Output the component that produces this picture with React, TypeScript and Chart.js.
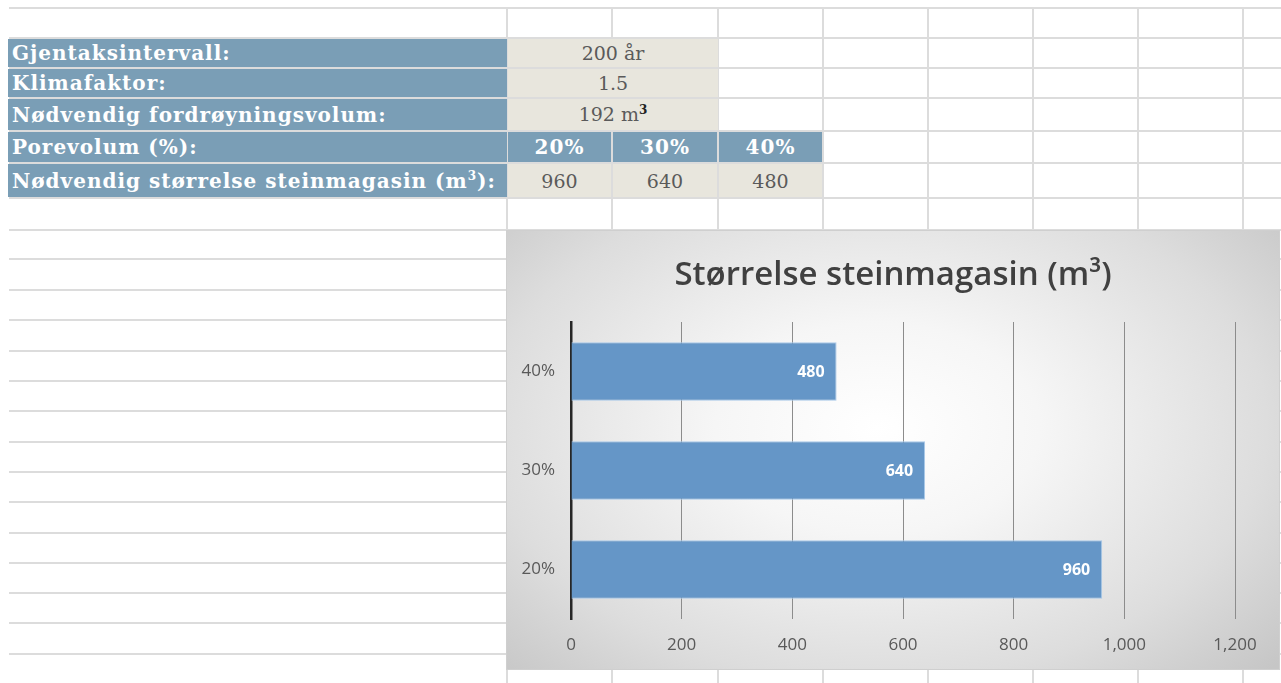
import React, { useEffect, useRef } from 'react';
import { Chart, registerables } from 'chart.js';

Chart.register(...registerables);

// ---- data ----
const porosityLabels = ['20%', '30%', '40%'];
const storageVolumes = [960, 640, 480];
const axisMin = 0;
const axisMax = 1200;
const axisStep = 200;
const chartTitle = 'Størrelse steinmagasin (m³)';

const rowLabels = [
  'Gjentaksintervall:',
  'Klimafaktor:',
  'Nødvendig fordrøyningsvolum:',
  'Porevolum (%):',
  'Nødvendig størrelse steinmagasin (m',
];
const returnPeriodText = '200 år';
const climateFactorText = '1.5';
const retentionVolume = 192;

// ---- layout (styles only) ----
const colEdges = [507, 612, 718, 823, 928, 1033, 1138, 1243];
const rowEdges = [8, 38, 68, 98, 131, 163, 198, 230, 259, 290, 320, 351, 381, 411, 442, 472, 502, 533, 563, 593, 623, 654, 684];
const tableRows = [38, 68, 98, 131, 163, 198];
const BLUE = '#7a9eb6';
const BEIGE = '#e8e6dd';
const GRID = '#dcdcdc';

const labelFont = '"DejaVu Serif", serif';
const valueFont = '"DejaVu Serif", serif';

function Cell(props: { x0: number; x1: number; r: number; bg: string; children?: React.ReactNode; align?: string; color?: string; bold?: boolean; font?: string; size?: number; spacing?: number }) {
  const top = tableRows[props.r];
  const bottom = tableRows[props.r + 1];
  return (
    <div
      style={{
        position: 'absolute',
        left: props.x0,
        top: top + 1,
        width: props.x1 - props.x0,
        height: bottom - top - 2,
        background: props.bg,
        display: 'flex',
        alignItems: 'center',
        justifyContent: props.align === 'left' ? 'flex-start' : 'center',
        paddingLeft: props.align === 'left' ? 4 : 0,
        boxSizing: 'border-box',
        color: props.color || '#fff',
        fontFamily: props.font || labelFont,
        fontWeight: props.bold ? 'bold' : 'normal',
        fontSize: props.size || 19,
        letterSpacing: props.spacing || 0,
        whiteSpace: 'nowrap',
        overflow: 'hidden',
      }}
    >
      {props.children}
    </div>
  );
}

const valueLabelsPlugin = {
  id: 'valueLabels',
  afterDatasetsDraw(chart: any) {
    const ctx = chart.ctx;
    const meta = chart.getDatasetMeta(0);
    const values = chart.data.datasets[0].data;
    ctx.save();
    ctx.fillStyle = '#ffffff';
    ctx.font = 'bold 16px "Open Sans"';
    ctx.textAlign = 'right';
    ctx.textBaseline = 'middle';
    meta.data.forEach((el: any, i: number) => {
      ctx.fillText(String(values[i]), el.x - 12, el.y + 1);
    });
    ctx.restore();
  },
};

// title centred on the whole chart box (Excel style), not on the plot area
const centeredTitlePlugin = {
  id: 'centeredTitle',
  afterDraw(chart: any) {
    const ctx = chart.ctx;
    ctx.save();
    ctx.fillStyle = '#404040';
    ctx.font = '600 33px "Open Sans"';
    ctx.textAlign = 'center';
    ctx.textBaseline = 'middle';
    ctx.fillText(chartTitle, chart.width / 2, 45);
    ctx.restore();
  },
};

function BarChart() {
  const ref = useRef<HTMLCanvasElement | null>(null);
  useEffect(() => {
    if (!ref.current) return;
    const chart = new Chart(ref.current, {
      type: 'bar',
      data: {
        labels: porosityLabels,
        datasets: [
          {
            data: storageVolumes,
            backgroundColor: '#6596c7',
            borderColor: '#a8c8e8',
            borderWidth: 1,
            categoryPercentage: 0.8,
            barPercentage: 0.74,
          },
        ],
      },
      options: {
        indexAxis: 'y',
        animation: false,
        responsive: false,
        locale: 'en-US',
        layout: { padding: { left: 0, right: 44, top: 91, bottom: 0 } },
        plugins: {
          legend: { display: false },
          tooltip: { enabled: false },
          title: { display: false },
        },
        scales: {
          x: {
            min: axisMin,
            max: axisMax,
            ticks: {
              stepSize: axisStep,
              color: '#595959',
              font: { family: '"Open Sans"', size: 17 },
              padding: 16,
            },
            grid: { color: '#8c8c8c', drawTicks: false, lineWidth: 1 },
            border: { display: false },
            afterFit: (s: any) => {
              s.height = 50;
            },
          },
          y: {
            reverse: true,
            z: 1,
            ticks: {
              color: '#595959',
              font: { family: '"Open Sans"', size: 17 },
              padding: 16,
            },
            grid: { color: 'rgba(0,0,0,0)', drawTicks: false },
            border: { display: true, color: '#262626', width: 2.5 },
            afterFit: (s: any) => {
              s.width = 64;
            },
          },
        },
      } as any,
      plugins: [valueLabelsPlugin, centeredTitlePlugin],
    });
    return () => chart.destroy();
  }, []);
  return <canvas ref={ref} width={772} height={438} style={{ display: 'block', width: 772, height: 438 }} />;
}

export default function App() {
  const W = 1281;
  const H = 683;
  return (
    <div style={{ position: 'absolute', left: 0, top: 0, width: W, height: H, overflow: 'hidden', background: '#fff' }}>
      {/* sheet grid */}
      {rowEdges.map((y, i) => (
        <div key={'h' + i} style={{ position: 'absolute', left: 9, top: y - 1, width: W, height: 2, background: GRID }} />
      ))}
      {colEdges.map((x, i) => (
        <div key={'v' + i} style={{ position: 'absolute', left: x - 1, top: 8, width: 2, height: H, background: GRID }} />
      ))}

      {/* table labels */}
      {rowLabels.map((t, i) => (
        <Cell key={'l' + i} x0={8} x1={507} r={i} bg={BLUE} align="left" bold size={20} spacing={1}>
          {i === 4 ? (
            <span>
              {t}
              <sup style={{ fontSize: 12 }}>3</sup>):
            </span>
          ) : (
            t
          )}
        </Cell>
      ))}

      {/* merged values */}
      <Cell x0={508} x1={718} r={0} bg={BEIGE} color="#5a5a5a" font={valueFont} size={19}>
        {returnPeriodText}
      </Cell>
      <Cell x0={508} x1={718} r={1} bg={BEIGE} color="#5a5a5a" font={valueFont} size={19}>
        {climateFactorText}
      </Cell>
      <Cell x0={508} x1={718} r={2} bg={BEIGE} color="#5a5a5a" font={valueFont} size={19}>
        <span>
          {retentionVolume} m<sup style={{ fontSize: 12, fontWeight: 'bold', color: '#222' }}>3</sup>
        </span>
      </Cell>

      {/* porosity header + volumes */}
      {porosityLabels.map((p, i) => (
        <Cell key={'p' + i} x0={colEdges[i] + 1} x1={colEdges[i + 1] - 1} r={3} bg={BLUE} bold size={20} spacing={1}>
          {p}
        </Cell>
      ))}
      {storageVolumes.map((v, i) => (
        <Cell key={'s' + i} x0={colEdges[i] + 1} x1={colEdges[i + 1] - 1} r={4} bg={BEIGE} color="#5a5a5a" font={valueFont} size={19}>
          {String(v)}
        </Cell>
      ))}

      {/* chart */}
      <div
        style={{
          position: 'absolute',
          left: 507,
          top: 231,
          width: 772,
          height: 438,
          background:
            'radial-gradient(ellipse 70% 80% at 48% 45%, #ffffff 0%, #f6f6f6 30%, #dddddd 72%, #c6c6c6 100%)',
          boxShadow: '0 0 0 1px #cfcfcf',
        }}
      >
        <BarChart />
      </div>
    </div>
  );
}
